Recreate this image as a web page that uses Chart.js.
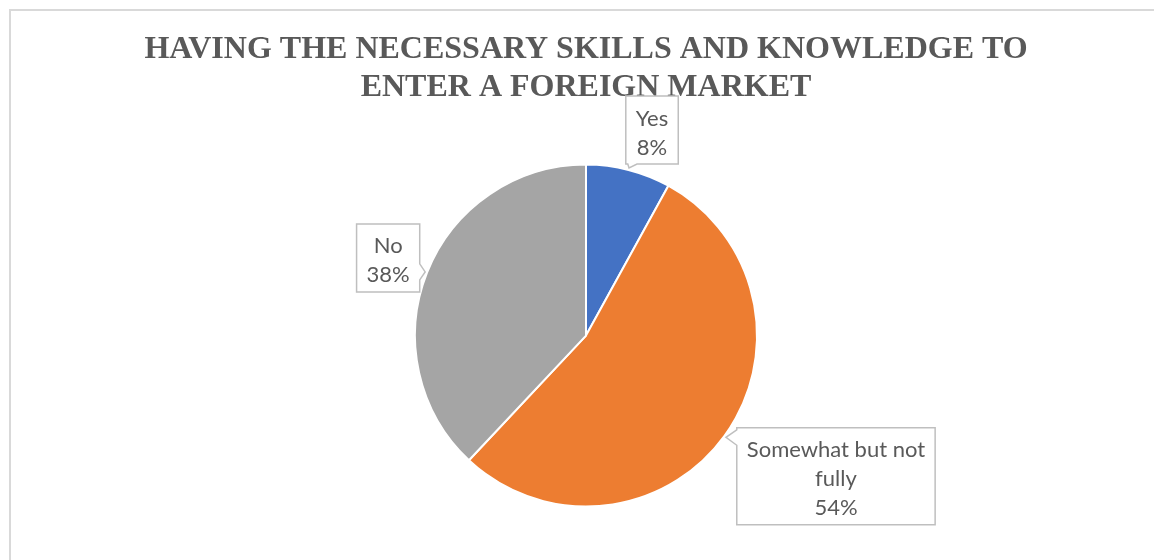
<!DOCTYPE html>
<html>
<head>
<meta charset="utf-8">
<title>Foreign market skills</title>
<script src="https://cdn.jsdelivr.net/npm/chart.js@4.4.0/dist/chart.umd.min.js"></script>
<style>
  html, body { margin: 0; padding: 0; background: #fff; overflow: hidden; }
  #frame { position: absolute; left: 9px; top: 9px; width: 1150px; height: 560px; border: 2px solid #d9d9d9; }
  canvas { display: block; }
</style>
</head>
<body>
<div id="frame"><canvas id="skillsChart" width="1150" height="560"></canvas></div>
<script>
// survey answers
const categories = ['Yes', 'Somewhat but not fully', 'No'];
const shares = [8, 54, 38];
const sliceColors = ['#4472C4', '#ED7D31', '#A5A5A5'];
const titleLines = ['HAVING THE NECESSARY SKILLS AND KNOWLEDGE TO', 'ENTER A FOREIGN MARKET'];

// split a label into lines no wider than maxWidth
function wrapText(ctx, text, maxWidth) {
    const words = text.split(' ');
    const lines = [];
    let line = '';
    words.forEach(w => {
        const test = line ? line + ' ' + w : w;
        if (line && ctx.measureText(test).width > maxWidth) {
            lines.push(line);
            line = w;
        } else {
            line = test;
        }
    });
    if (line) lines.push(line);
    return lines;
}

// boxed data labels with a little pointer towards the slice
const calloutPlugin = {
    id: 'callouts',
    afterDatasetsDraw(chart, args, opts) {
        const ctx = chart.ctx;
        const meta = chart.getDatasetMeta(0);
        ctx.save();
        ctx.font = opts.font;
        meta.data.forEach((arc, i) => {
            const p = arc.getProps(['x', 'y', 'startAngle', 'endAngle', 'outerRadius'], true);
            const mid = (p.startAngle + p.endAngle) / 2;
            const r = p.outerRadius + opts.tipGap;
            const tx = p.x + Math.cos(mid) * r;
            const ty = p.y + Math.sin(mid) * r;

            const lines = wrapText(ctx, categories[i], opts.maxWidth);
            lines.push(shares[i] + '%');
            const textW = Math.max(...lines.map(l => ctx.measureText(l).width));
            const w = textW + opts.padX * 2;
            const h = lines.length * opts.lineHeight + opts.padY * 2;
            const off = opts.offsets[i];
            const cx = tx + off[0], cy = ty + off[1];
            const x0 = cx - w / 2, y0 = cy - h / 2, x1 = cx + w / 2, y1 = cy + h / 2;

            // which side of the box the pointer leaves from
            let side;
            if (ty > y1) side = 'bottom';
            else if (ty < y0) side = 'top';
            else if (tx < x0) side = 'left';
            else side = 'right';
            const half = opts.pointerWidth / 2;
            const clampX = v => Math.min(Math.max(v, x0 + 2), x1 - 2);
            const clampY = v => Math.min(Math.max(v, y0 + 2), y1 - 2);

            ctx.beginPath();
            ctx.moveTo(x0, y0);
            if (side === 'top') {
                const a = clampX(tx - half), b = clampX(tx + half);
                ctx.lineTo(a, y0); ctx.lineTo(tx, ty); ctx.lineTo(b, y0);
            }
            ctx.lineTo(x1, y0);
            if (side === 'right') {
                const a = clampY(ty - half), b = clampY(ty + half);
                ctx.lineTo(x1, a); ctx.lineTo(tx, ty); ctx.lineTo(x1, b);
            }
            ctx.lineTo(x1, y1);
            if (side === 'bottom') {
                const a = clampX(tx + half), b = clampX(tx - half);
                ctx.lineTo(a, y1); ctx.lineTo(tx, ty); ctx.lineTo(b, y1);
            }
            ctx.lineTo(x0, y1);
            if (side === 'left') {
                const a = clampY(ty + half), b = clampY(ty - half);
                ctx.lineTo(x0, a); ctx.lineTo(tx, ty); ctx.lineTo(x0, b);
            }
            ctx.closePath();
            ctx.fillStyle = '#ffffff';
            ctx.fill();
            ctx.lineWidth = 1.5;
            ctx.strokeStyle = '#bfbfbf';
            ctx.stroke();

            ctx.fillStyle = '#595959';
            ctx.textAlign = 'center';
            ctx.textBaseline = 'middle';
            lines.forEach((l, k) => {
                ctx.fillText(l, cx, y0 + opts.padY + opts.textShift + opts.lineHeight * (k + 0.5));
            });
        });
        ctx.restore();
    }
};

new Chart(document.getElementById('skillsChart'), {
    type: 'pie',
    data: {
        labels: categories,
        datasets: [{
            data: shares,
            backgroundColor: sliceColors,
            borderColor: '#ffffff',
            borderWidth: 2
        }]
    },
    options: {
        responsive: false,
        animation: false,
        radius: 171,
        layout: { padding: { bottom: 13 } },
        plugins: {
            legend: { display: false },
            tooltip: { enabled: false },
            title: {
                display: true,
                text: titleLines,
                color: '#595959',
                font: { family: "'Liberation Serif', 'Times New Roman', serif", size: 32, weight: 'bold', lineHeight: 1.19 },
                padding: { top: 20, bottom: 6 }
            },
            callouts: {
                font: "22px Lato, 'Open Sans', sans-serif",
                lineHeight: 29,
                padX: 10,
                padY: 5,
                textShift: 3,
                maxWidth: 190,
                tipGap: 2,
                pointerWidth: 16,
                offsets: [[23, -38], [110, 39], [-37, -14]]
            }
        }
    },
    plugins: [calloutPlugin]
});
</script>
</body>
</html>
